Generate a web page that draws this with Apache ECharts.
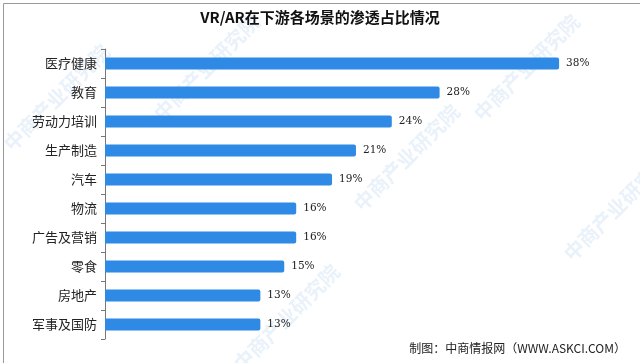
<!DOCTYPE html>
<html><head><meta charset="utf-8">
<script src="https://cdn.jsdelivr.net/npm/echarts@6/dist/echarts.min.js"></script>
<style>html,body{margin:0;padding:0;background:#fff}#c{width:640px;height:363px}</style>
</head><body><div id="c"></div>
<script>
const categories = ['医疗健康','教育','劳动力培训','生产制造','汽车','物流','广告及营销','零食','房地产','军事及国防'];
const values = [38,28,24,21,19,16,16,15,13,13];
const titleText = 'VR/AR在下游各场景的渗透占比情况';
const sourceText = '制图：中商情报网（WWW.ASKCI.COM）';

const chart = echarts.init(document.getElementById('c'));
const wm = [[150,110],[350,200],[560,250],[0,140],[230,360],[470,110]];
chart.setOption({
  animation:false,
  title:{text:titleText,left:'center',top:5,textStyle:{fontFamily:'Noto Sans CJK SC',fontSize:15,fontWeight:'bold',color:'#111'}},
  grid:{left:105,top:49,width:478,height:290},
  xAxis:{type:'value',min:0,max:40,show:false},
  yAxis:{type:'category',data:categories,inverse:true,
    axisLine:{lineStyle:{color:'#777'}},
    axisTick:{show:true,length:4,lineStyle:{color:'#777'}},
    axisLabel:{fontFamily:'Noto Sans CJK SC',fontSize:13,color:'#222',margin:8}},
  series:[{type:'bar',data:values,barWidth:12,
    itemStyle:{color:'#2f8ae6',borderRadius:[0,2,2,0]},
    label:{show:true,position:'right',distance:7,formatter:'{c}%',fontFamily:'DejaVu Serif',fontSize:10.5,color:'#222'}}],
  graphic:[
    {type:'rect',left:1,top:1,shape:{width:637,height:360},style:{fill:'none',stroke:'#999',lineWidth:1},silent:true,z:-1},
    ...wm.map(p=>({type:'text',x:p[0],y:p[1],rotation:Math.PI/4,style:{text:'中商产业研究院',font:'bold 20px "Noto Sans CJK SC"',fill:'rgba(120,170,225,0.16)'},silent:true,z:-2})),
    {type:'text',right:14,top:342,style:{text:sourceText,font:'12px "Noto Sans CJK SC"',fill:'#222'}}
  ]
});
</script></body></html>
